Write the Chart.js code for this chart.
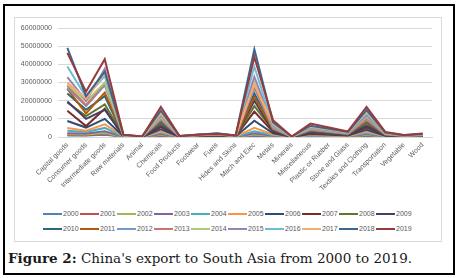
<!DOCTYPE html>
<html>
<head>
<meta charset="utf-8">
<script src="https://cdn.jsdelivr.net/npm/chart.js@4.4.0/dist/chart.umd.min.js"></script>
<style>
  body { margin: 0; background: #fff; width: 458px; height: 278px; position: relative; overflow: hidden; }
  #frame { position: absolute; left: 3px; top: 4px; width: 452px; height: 271px; box-sizing: border-box; border: 2px solid #000; }
  #box { position: absolute; left: 14px; top: 17px; width: 428px; height: 225px; box-sizing: border-box; border: 1px solid #d9d9d9; }
  #wrap { position: absolute; left: 14px; top: 17px; width: 428px; height: 185px; }
  #legend { position: absolute; left: 14px; top: 206px; width: 428px; font: 7px "Liberation Sans", Arial, sans-serif; color: #595959; }
  .row { display: flex; justify-content: center; height: 15px; align-items: center; }
  .item { display: inline-flex; align-items: center; width: 37px; }
  .item i { display: inline-block; width: 19px; height: 2px; margin-right: 1px; }
  #caption { position: absolute; left: 8px; top: 250px; font: 13.5px "DejaVu Serif", serif; color: #1a1a1a; white-space: nowrap; }
</style>
</head>
<body>
<div id="frame"></div>
<div id="box"></div>
<div id="wrap"><canvas id="exportChart"></canvas></div>
<div id="legend"></div>
<div id="caption"><b>Figure 2:</b> China's export to South Asia from 2000 to 2019.</div>
<script>
var categories = ['Capital goods', 'Consumer goods', 'Intermediate goods', 'Raw materials', 'Animal',
    'Chemicals', 'Food Products', 'Footwear', 'Fuels', 'Hides and Skins', 'Mach and Elec', 'Metals',
    'Minerals', 'Miscellaneous', 'Plastic or Rubber', 'Stone and Glass', 'Textiles and Clothing',
    'Transportation', 'Vegetable', 'Wood'];

var years = ['2000', '2001', '2002', '2003', '2004', '2005', '2006', '2007', '2008', '2009',
    '2010', '2011', '2012', '2013', '2014', '2015', '2016', '2017', '2018', '2019'];

var yTicks = [0, 10000000, 20000000, 30000000, 40000000, 50000000, 60000000];

var v2000 = [800000, 800000, 1300000, 100000, 0, 700000, 0, 100000, 200000, 100000, 600000, 300000, 0, 300000, 200000, 100000, 700000, 100000, 100000, 100000];
var v2001 = [1100000, 1000000, 1700000, 100000, 0, 900000, 0, 100000, 200000, 100000, 1000000, 400000, 0, 300000, 200000, 200000, 900000, 200000, 100000, 100000];
var v2002 = [1500000, 1400000, 2200000, 100000, 0, 1200000, 100000, 100000, 300000, 100000, 1400000, 500000, 0, 400000, 300000, 200000, 1200000, 200000, 100000, 200000];
var v2003 = [2000000, 1900000, 3200000, 200000, 0, 1600000, 100000, 200000, 300000, 100000, 2000000, 700000, 0, 600000, 400000, 300000, 1600000, 300000, 100000, 200000];
var v2004 = [3500000, 2800000, 5000000, 200000, 0, 2300000, 100000, 200000, 400000, 200000, 3200000, 1000000, 100000, 800000, 600000, 400000, 2200000, 400000, 200000, 300000];
var v2005 = [5000000, 3500000, 7000000, 300000, 100000, 3000000, 100000, 300000, 500000, 200000, 5000000, 1400000, 100000, 1100000, 800000, 500000, 3000000, 500000, 200000, 400000];
var v2006 = [8800000, 5200000, 10000000, 400000, 100000, 4200000, 100000, 400000, 600000, 300000, 9000000, 2000000, 100000, 1600000, 1200000, 800000, 4000000, 700000, 300000, 500000];
var v2007 = [14500000, 6000000, 15500000, 500000, 100000, 5500000, 200000, 500000, 800000, 300000, 14000000, 2800000, 100000, 2200000, 1600000, 1000000, 5200000, 900000, 400000, 600000];
var v2008 = [19000000, 11500000, 18000000, 600000, 100000, 7000000, 200000, 600000, 1000000, 400000, 17000000, 3600000, 100000, 2800000, 2100000, 1300000, 6600000, 1100000, 500000, 700000];
var v2009 = [19500000, 10000000, 15000000, 500000, 100000, 6000000, 200000, 600000, 900000, 400000, 20000000, 3200000, 100000, 2600000, 1900000, 1200000, 6000000, 1000000, 500000, 700000];
var v2010 = [24000000, 15000000, 22500000, 700000, 100000, 8200000, 300000, 800000, 1200000, 500000, 24000000, 4000000, 100000, 3300000, 2400000, 1500000, 7800000, 1300000, 600000, 800000];
var v2011 = [26500000, 13000000, 24500000, 700000, 100000, 9000000, 300000, 800000, 1200000, 500000, 22000000, 4300000, 200000, 3600000, 2600000, 1600000, 8400000, 1400000, 600000, 900000];
var v2012 = [27000000, 17000000, 28500000, 800000, 200000, 9600000, 300000, 900000, 1400000, 600000, 27000000, 4700000, 200000, 4000000, 2900000, 1800000, 9600000, 1500000, 700000, 1000000];
var v2013 = [28200000, 17500000, 29500000, 800000, 200000, 10200000, 300000, 1000000, 1400000, 600000, 28000000, 5000000, 200000, 4300000, 3100000, 2000000, 10400000, 1600000, 700000, 1100000];
var v2014 = [29000000, 19500000, 30000000, 900000, 200000, 10800000, 400000, 1100000, 1500000, 600000, 30000000, 5600000, 200000, 4700000, 3400000, 2100000, 11200000, 1800000, 800000, 1200000];
var v2015 = [33000000, 20000000, 37500000, 900000, 200000, 11800000, 400000, 1200000, 1800000, 700000, 33200000, 6000000, 200000, 5000000, 3700000, 2300000, 12000000, 1900000, 800000, 1300000];
var v2016 = [38800000, 22000000, 33500000, 1000000, 200000, 12400000, 400000, 1300000, 1900000, 700000, 38700000, 6500000, 200000, 5400000, 4000000, 2400000, 13000000, 2000000, 900000, 1400000];
var v2017 = [30000000, 21000000, 35200000, 1100000, 200000, 13200000, 400000, 1200000, 1700000, 800000, 29000000, 7200000, 300000, 5800000, 4200000, 2600000, 14000000, 2200000, 900000, 1500000];
var v2018 = [49000000, 22500000, 36000000, 1200000, 300000, 14500000, 500000, 1300000, 2000000, 800000, 48300000, 8000000, 300000, 6200000, 4600000, 2800000, 14800000, 2500000, 1000000, 1600000];
var v2019 = [46300000, 25000000, 42800000, 1300000, 300000, 16600000, 500000, 1400000, 1600000, 900000, 44000000, 9200000, 300000, 7400000, 5200000, 3100000, 16600000, 2800000, 1100000, 1900000];

var seriesValues = [v2000, v2001, v2002, v2003, v2004, v2005, v2006, v2007, v2008, v2009,
    v2010, v2011, v2012, v2013, v2014, v2015, v2016, v2017, v2018, v2019];

var colors = ['#4f81bd', '#c0504d', '#9bbb59', '#8064a2', '#4bacc6', '#f79646', '#2c4d75', '#772c2a', '#5f7530', '#4d3b62',
    '#276a7c', '#b65708', '#729aca', '#cd7371', '#afc97a', '#9983b5', '#6fbdd1', '#f9ab6b', '#3b6592', '#963c3a'];

document.addEventListener('DOMContentLoaded', function () {
    var ctx = document.getElementById('exportChart').getContext('2d');

    var datasets = years.map(function (year, i) {
        return {
            label: year,
            data: seriesValues[i],
            borderColor: colors[i],
            backgroundColor: colors[i],
            borderWidth: 2,
            pointRadius: 0,
            tension: 0,
            fill: false,
            order: years.length - 1 - i   // later years drawn on top
        };
    });

    var exportChart = new Chart(ctx, {
        type: 'line',
        data: { labels: categories, datasets: datasets },
        options: {
            responsive: true,
            maintainAspectRatio: false,
            animation: false,
            layout: { padding: { left: 0, top: 11, right: 10, bottom: 0 } },
            plugins: {
                legend: { display: false },
                tooltip: { enabled: false }
            },
            scales: {
                x: {
                    offset: true,
                    grid: { display: false, drawTicks: false },
                    border: { display: true, color: '#d9d9d9' },
                    ticks: {
                        autoSkip: false,
                        maxRotation: 45,
                        minRotation: 45,
                        padding: 4,
                        color: '#595959',
                        font: { family: 'Liberation Sans', size: 7 }
                    },
                    afterFit: function (scale) { scale.height = 65; }
                },
                y: {
                    min: 0,
                    max: 60000000,
                    afterBuildTicks: function (scale) {
                        scale.ticks = yTicks.map(function (v) { return { value: v }; });
                    },
                    grid: { color: '#d9d9d9', drawTicks: false },
                    border: { display: false },
                    ticks: {
                        padding: 6,
                        color: '#595959',
                        font: { family: 'Liberation Sans', size: 7 },
                        callback: function (value) { return String(value); }
                    },
                    afterFit: function (scale) { scale.width = 44; }
                }
            }
        }
    });

    // html legend, two rows of ten like the original
    var legend = document.getElementById('legend');
    for (var r = 0; r < 2; r++) {
        var row = document.createElement('div');
        row.className = 'row';
        for (var k = r * 10; k < r * 10 + 10; k++) {
            var ds = exportChart.data.datasets[k];
            var item = document.createElement('span');
            item.className = 'item';
            item.innerHTML = '<i style="background:' + ds.borderColor + '"></i>' + ds.label;
            row.appendChild(item);
        }
        legend.appendChild(row);
    }
});
</script>
</body>
</html>
